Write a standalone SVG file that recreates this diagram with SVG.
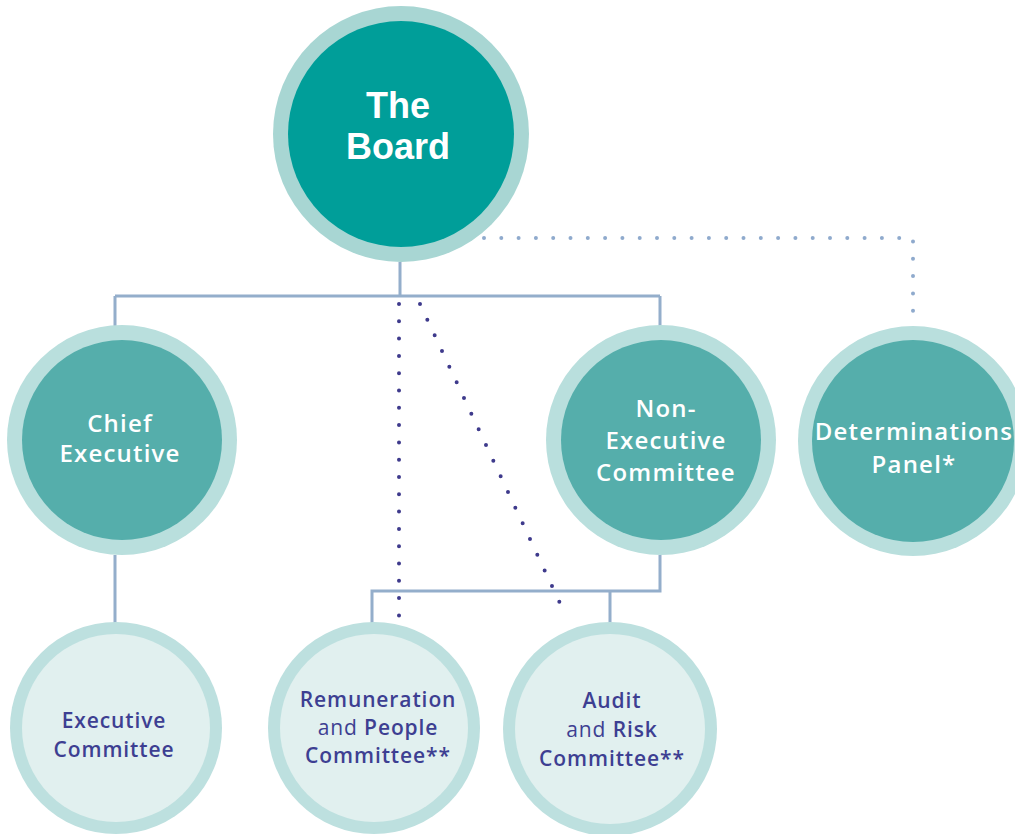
<svg xmlns="http://www.w3.org/2000/svg" width="1015" height="834" viewBox="0 0 1015 834">
<style>
.ring1{fill:#a8d6d3}
.core1{fill:#009e99}
.ring2{fill:#b9dfdd}
.core2{fill:#55aeab}
.ring3{fill:#bde0df}
.core3{fill:#e1f0ef}
.bt{fill:#ffffff;font-family:"Liberation Sans",Arial,sans-serif;font-weight:700;font-size:36px;text-anchor:middle}
.wt{fill:#ffffff;font-family:"Open Sans","Liberation Sans",sans-serif;font-weight:600;font-size:24px;letter-spacing:1.2px;text-anchor:middle}
.pt{fill:#3d3f92;font-family:"Open Sans","Liberation Sans",sans-serif;font-weight:600;font-size:21px;letter-spacing:0.9px;text-anchor:middle}
.reg{font-weight:400}
.solid{fill:none;stroke:#94aecb;stroke-width:3}
.dotp{fill:none;stroke:#3e3a8c;stroke-width:4;stroke-linecap:round;stroke-dasharray:0 17.3}
.dotb{fill:none;stroke:#8faacd;stroke-width:4;stroke-linecap:round;stroke-dasharray:0 17.3}
</style>
<rect width="1015" height="834" fill="#ffffff"/>
<g id="connectors">
<path class="solid" d="M400 262V296M115 296H660M115 296V328M660 296V328M115 555V624M660 555V591H372V624M610 591V624"/>
<path class="dotp" d="M399 304V616"/>
<path class="dotp" d="M420 304L566 616"/>
<path class="dotb" d="M484 238H913V320"/>
</g>
<g id="board">
<circle class="ring1" cx="401" cy="134" r="128"/>
<circle class="core1" cx="401" cy="134" r="113"/>
<text class="bt" x="398" y="118">The</text>
<text class="bt" x="398" y="159">Board</text>
</g>
<g id="chief-executive">
<circle class="ring2" cx="122" cy="440" r="115"/>
<circle class="core2" cx="122" cy="440" r="100"/>
<text class="wt" x="120" y="432">Chief</text>
<text class="wt" x="120" y="462">Executive</text>
</g>
<g id="non-executive-committee">
<circle class="ring2" cx="661" cy="440" r="115"/>
<circle class="core2" cx="661" cy="440" r="100"/>
<text class="wt" x="666" y="417">Non-</text>
<text class="wt" x="666" y="449">Executive</text>
<text class="wt" x="666" y="481">Committee</text>
</g>
<g id="determinations-panel">
<circle class="ring2" cx="913" cy="441" r="115"/>
<circle class="core2" cx="913" cy="441" r="101"/>
<text class="wt" x="914" y="440">Determinations</text>
<text class="wt" x="914" y="473">Panel*</text>
</g>
<g id="executive-committee">
<circle class="ring3" cx="116" cy="728" r="106"/>
<circle class="core3" cx="116" cy="728" r="94"/>
<text class="pt" x="114" y="728">Executive</text>
<text class="pt" x="114" y="757">Committee</text>
</g>
<g id="remuneration-committee">
<circle class="ring3" cx="374" cy="728" r="106"/>
<circle class="core3" cx="374" cy="728" r="94"/>
<text class="pt" x="378" y="707">Remuneration</text>
<text class="pt" x="378" y="735"><tspan class="reg">and </tspan>People</text>
<text class="pt" x="378" y="763">Committee**</text>
</g>
<g id="audit-committee">
<circle class="ring3" cx="610" cy="729" r="107"/>
<circle class="core3" cx="610" cy="729" r="95"/>
<text class="pt" x="612" y="708">Audit</text>
<text class="pt" x="612" y="737"><tspan class="reg">and </tspan>Risk</text>
<text class="pt" x="612" y="766">Committee**</text>
</g>
</svg>
